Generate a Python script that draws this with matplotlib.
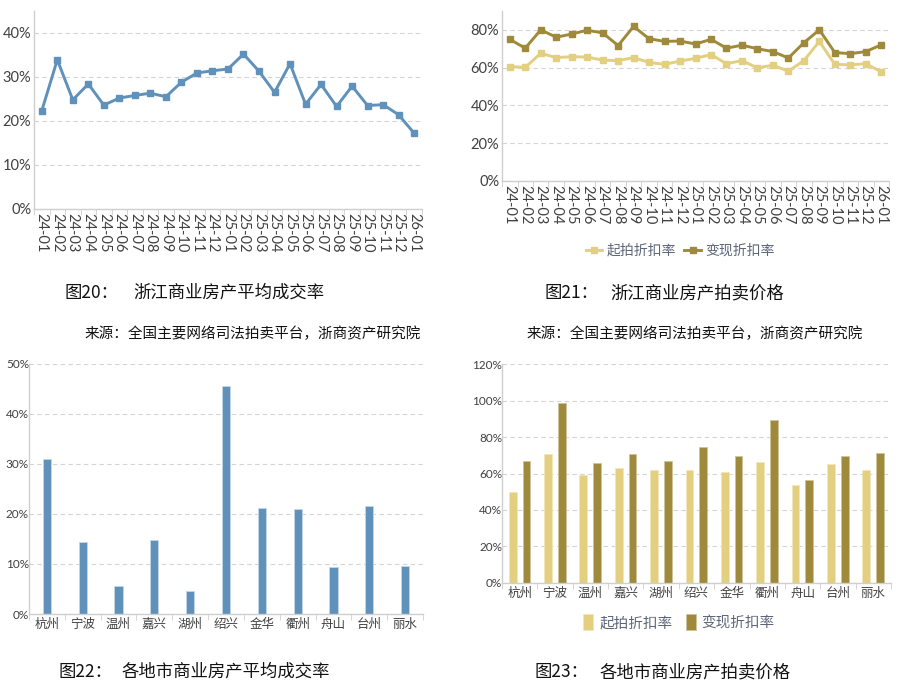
import numpy as np
import matplotlib.pyplot as plt
from matplotlib.ticker import FuncFormatter, FixedLocator

plt.rcParams['font.family'] = ['Lato', 'Noto Sans CJK SC', 'DejaVu Sans']

# ---- data ----
months = ['24-01', '24-02', '24-03', '24-04', '24-05', '24-06', '24-07', '24-08',
          '24-09', '24-10', '24-11', '24-12', '25-01', '25-02', '25-03', '25-04',
          '25-05', '25-06', '25-07', '25-08', '25-09', '25-10', '25-11', '25-12', '26-01']
deal_rate = [22.3, 33.9, 24.8, 28.4, 23.6, 25.2, 25.8, 26.3, 25.5, 28.8, 30.9, 31.4,
             31.8, 35.2, 31.3, 26.5, 33.0, 23.8, 28.3, 23.3, 27.9, 23.5, 23.7, 21.4, 17.2]
start_disc = [60.6, 60.1, 67.6, 65.3, 65.8, 65.6, 64.0, 63.7, 65.3, 62.8, 61.7, 63.5,
              64.9, 66.9, 62.1, 63.7, 59.9, 61.3, 58.1, 63.7, 73.9, 61.7, 61.5, 62.1, 57.8]
real_disc = [75.0, 70.3, 80.0, 76.1, 77.8, 79.8, 78.4, 71.7, 81.8, 75.3, 73.9, 74.1,
             72.5, 75.0, 70.3, 71.9, 70.0, 68.5, 65.1, 73.2, 80.0, 68.0, 67.4, 68.5, 72.1]

cities = ['杭州', '宁波', '温州', '嘉兴', '湖州', '绍兴', '金华', '衢州', '舟山', '台州', '丽水']
city_deal = [31.0, 14.3, 5.7, 14.7, 4.7, 45.5, 21.2, 21.0, 9.3, 21.6, 9.5]
city_start = [49.7, 70.7, 59.4, 63.0, 61.7, 62.1, 60.6, 66.3, 53.7, 65.2, 62.1]
city_real = [67.1, 98.9, 65.6, 70.7, 67.1, 74.8, 69.4, 89.4, 56.6, 69.4, 71.1]

blue = '#5f91bb'
light = '#e2cf80'
dark = '#9e8a3a'
axis_gray = '#cfcfcf'
text_gray = '#404040'
legend_gray = '#5c6678'
pct = FuncFormatter(lambda v, p: f'{v:.0f}%')


def style_axes(ax, n, ticks):
    for s in ['top', 'right']:
        ax.spines[s].set_visible(False)
    for s in ['left', 'bottom']:
        ax.spines[s].set_color(axis_gray)
        ax.spines[s].set_linewidth(1.0)
    ax.set_xlim(-0.5, n - 0.5)
    ax.yaxis.set_major_locator(FixedLocator(ticks))
    ax.yaxis.set_major_formatter(pct)
    ax.grid(axis='y', color='#d4d4d4', linestyle=(0, (4, 3)), linewidth=0.8)
    ax.set_axisbelow(True)
    ax.tick_params(axis='y', length=0, pad=2, labelcolor=text_gray)
    ax.tick_params(axis='x', which='major', length=0, labelcolor=text_gray, pad=3)
    ax.set_xticks(np.arange(-0.5, n, 1.0), minor=True)
    ax.tick_params(axis='x', which='minor', length=4, color=axis_gray)


fig = plt.figure(figsize=(9, 6.95), dpi=100)

# ---- 图20 ----
ax1 = fig.add_axes([0.0378, 0.6993, 0.431, 0.285])
x = np.arange(len(months))
ax1.plot(x, deal_rate, color=blue, lw=2.1, marker='s', ms=4.8, mec=blue, mfc=blue)
ax1.set_ylim(0, 45)
style_axes(ax1, len(months), [0, 10, 20, 30, 40])
ax1.set_xticks(x)
ax1.set_xticklabels(months, rotation=-90, fontsize=10.5)
ax1.tick_params(axis='y', labelsize=10.5)

# ---- 图21 ----
ax2 = fig.add_axes([0.5578, 0.7396, 0.43, 0.2446])
ax2.plot(x, start_disc, color=light, lw=2.1, marker='s', ms=4.8, label='起拍折扣率')
ax2.plot(x, real_disc, color=dark, lw=2.1, marker='s', ms=4.8, label='变现折扣率')
ax2.set_ylim(0, 90)
style_axes(ax2, len(months), [0, 20, 40, 60, 80])
ax2.set_xticks(x)
ax2.set_xticklabels(months, rotation=-90, fontsize=10.5)
ax2.tick_params(axis='y', labelsize=10.5)
leg = ax2.legend(loc='center', bbox_to_anchor=(0.46, -0.41), ncol=2, frameon=False,
                 handlelength=1.2, handletextpad=0.3, columnspacing=0.6,
                 prop={'family': ['Noto Sans CJK SC'], 'size': 10})
for t in leg.get_texts():
    t.set_color(legend_gray)

# ---- 图22 ----
ax3 = fig.add_axes([0.0322, 0.1165, 0.4378, 0.36])
xc = np.arange(len(cities))
ax3.bar(xc, city_deal, width=0.23, color=blue, edgecolor='#c5d7e6', linewidth=0.6)
ax3.set_ylim(0, 50)
style_axes(ax3, len(cities), [0, 10, 20, 30, 40, 50])
ax3.set_xticks(xc)
ax3.set_xticklabels(cities, family=['Noto Sans CJK SC'], fontsize=9)
ax3.tick_params(axis='y', labelsize=8.5, pad=0)

# ---- 图23 ----
ax4 = fig.add_axes([0.5578, 0.1612, 0.4322, 0.315])
ax4.bar(xc - 0.2, city_start, width=0.22, color=light, edgecolor='#f0e6b8', linewidth=0.6,
        label='起拍折扣率')
ax4.bar(xc + 0.19, city_real, width=0.22, color=dark, edgecolor='#cfc39a', linewidth=0.6,
        label='变现折扣率')
ax4.set_ylim(0, 120)
style_axes(ax4, len(cities), [0, 20, 40, 60, 80, 100, 120])
ax4.set_xticks(xc)
ax4.set_xticklabels(cities, family=['Noto Sans CJK SC'], fontsize=9)
ax4.tick_params(axis='y', labelsize=8.5, pad=0)
leg2 = ax4.legend(loc='center', bbox_to_anchor=(0.455, -0.18), ncol=2, frameon=False,
                  handlelength=0.7, handleheight=1.3, handletextpad=0.4, columnspacing=0.9,
                  prop={'family': ['Noto Sans CJK SC'], 'size': 10.5})
for t in leg2.get_texts():
    t.set_color(legend_gray)

# ---- captions ----
cap = dict(family=['Noto Sans CJK SC'], color='#111111', va='center')
fig.text(65 / 900, 1 - 293 / 695, '图20：', fontsize=12.5, **cap)
fig.text(133 / 900, 1 - 293 / 695, '浙江商业房产平均成交率', fontsize=12.5, **cap)
fig.text(545 / 900, 1 - 293 / 695, '图21：', fontsize=12.5, **cap)
fig.text(610 / 900, 1 - 293 / 695, '浙江商业房产拍卖价格', fontsize=12.5, **cap)
fig.text(85 / 900, 1 - 334 / 695, '来源：全国主要网络司法拍卖平台，浙商资产研究院', fontsize=10.5, **cap)
fig.text(527 / 900, 1 - 334 / 695, '来源：全国主要网络司法拍卖平台，浙商资产研究院', fontsize=10.5, **cap)
fig.text(58 / 900, 1 - 672 / 695, '图22：', fontsize=12.5, **cap)
fig.text(122 / 900, 1 - 672 / 695, '各地市商业房产平均成交率', fontsize=12.5, **cap)
fig.text(535 / 900, 1 - 672 / 695, '图23：', fontsize=12.5, **cap)
fig.text(600 / 900, 1 - 672 / 695, '各地市商业房产拍卖价格', fontsize=12.5, **cap)

fig.savefig('out.png', dpi=100)
